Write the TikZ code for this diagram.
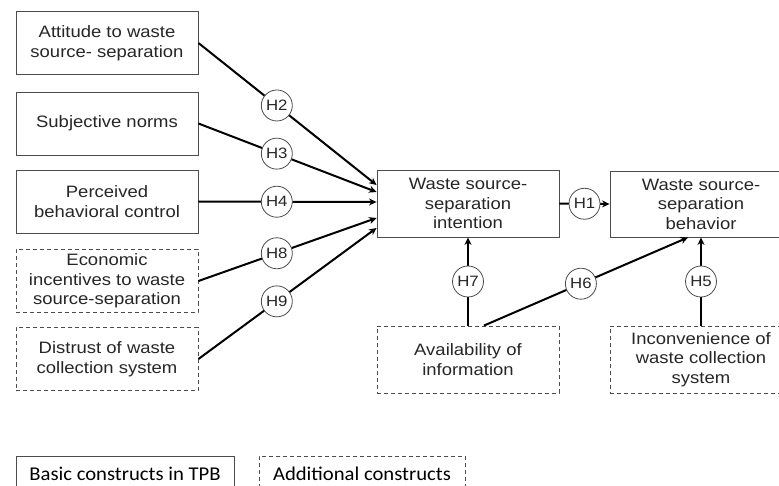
\documentclass[tikz,border=0pt]{standalone}
\usepackage{fontspec}
\setmainfont{Liberation Sans}[FakeStretch=1.12]
\newfontfamily\legendfont{Carlito}[FakeStretch=1.06]
\usetikzlibrary{arrows.meta}

\tikzset{
    construct/.style={draw=black!70, line width=0.9pt, text=black!85, align=center,
        minimum width=182pt, minimum height=63pt, inner sep=0pt,
        font=\fontsize{16.5}{19.5}\selectfont},
    extra/.style={construct, dash pattern=on 4pt off 3pt},
    hyp/.style={circle, draw=black!70, fill=white, line width=0.8pt, inner sep=0pt,
        minimum size=31pt, text=black!85, font=\fontsize{15}{15}\selectfont},
    effect/.style={line width=2pt, -{Stealth[length=7.5pt,width=7pt]}},
    legendbox/.style={draw=black!70, line width=0.8pt, inner sep=0pt, minimum height=36pt,
        font=\legendfont\fontsize{19.5}{20}\selectfont}
}

\begin{document}
\begin{tikzpicture}[x=1pt,y=-1pt]
    \clip (0,0) rectangle (779,486);

    \node[construct] (att) at (107,43) {Attitude to waste\\source- separation};
    \node[construct] (sub) at (107,123.5) {Subjective norms};
    \node[construct] (pbc) at (107,201.5) {Perceived\\behavioral control};
    \node[extra] (eco) at (107,281) {Economic\\incentives to waste\\source-separation};
    \node[extra] (dis) at (107,359) {Distrust of waste\\collection system};

    \node[construct, minimum height=67pt] (int) at (468,203.5) {Waste source-\\separation\\intention};
    \node[construct, minimum height=66pt] (beh) at (701,204) {Waste source-\\separation\\behavior};
    \node[extra, minimum height=67pt] (av) at (468,359.5) {Availability of\\information};
    \node[extra, minimum height=67pt] (inc) at (701,359.5) {Inconvenience of\\waste collection\\system};

    \foreach \src/\dy/\n in {att/18.5/2, sub/11.5/3, pbc/1.5/4, eco/-14.5/8, dis/-24.5/9}
        \draw[effect] (\src.east) -- node[hyp, pos=0.44] (h\n) {H\n} ([yshift=\dy pt]int.west);

    \draw[effect] (int.east) -- node[hyp] (h1) {H1} (beh.west);
    \draw[effect] (av.north) -- node[hyp] (h7) {H7} (int.south);
    \draw[effect] ([xshift=16pt]av.north) -- node[hyp, pos=0.475] (h6) {H6} ([xshift=-13pt]beh.south);
    \draw[effect] (inc.north) -- node[hyp] (h5) {H5} (beh.south);

    \node[legendbox, minimum width=218pt] (basic) at (125,474) {Basic constructs in TPB};
    \node[legendbox, minimum width=206pt, dash pattern=on 4pt off 3pt] (add) at (362,474) {Additional constructs};
\end{tikzpicture}
\end{document}
